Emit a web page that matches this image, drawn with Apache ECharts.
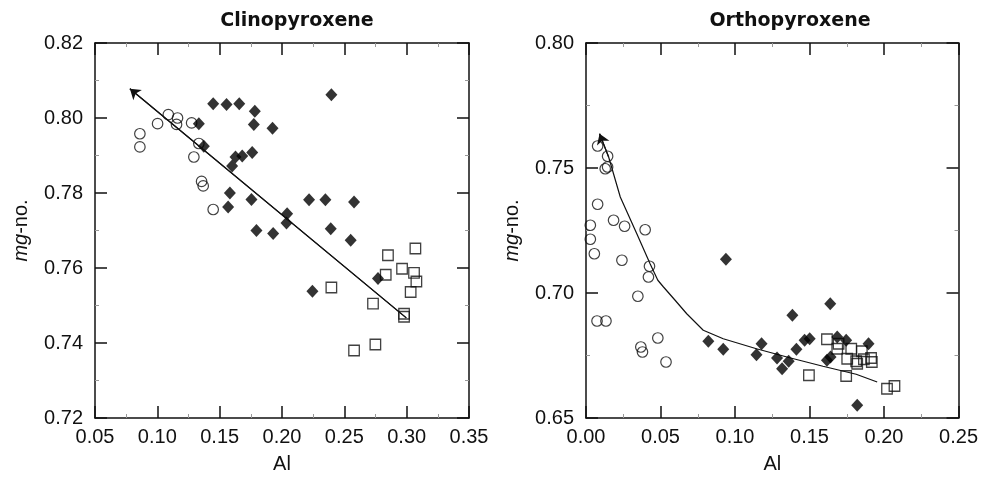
<!DOCTYPE html>
<html>
<head>
<meta charset="utf-8">
<script src="https://cdn.jsdelivr.net/npm/echarts@6/dist/echarts.min.js"></script>
<style>
html,body{margin:0;padding:0;background:#fff;}
#chart{width:981px;height:483px;}
</style>
</head>
<body>
<div id="chart"></div>
<script>
// ---------- Titles ----------
var cpxTitle = 'Clinopyroxene';
var opxTitle = 'Orthopyroxene';

// ---------- Tick values ----------
var cpxXTicks = [0.05, 0.10, 0.15, 0.20, 0.25, 0.30, 0.35];
var cpxYTicks = [0.72, 0.74, 0.76, 0.78, 0.80, 0.82];
var opxXTicks = [0.00, 0.05, 0.10, 0.15, 0.20, 0.25];
var opxYTicks = [0.65, 0.70, 0.75, 0.80];

// ---------- Clinopyroxene data [Al, mg-no.] ----------
var cpxCircles = [
  [0.086, 0.7958], [0.086, 0.7923], [0.1002, 0.7985], [0.1088, 0.8009],
  [0.1162, 0.8000], [0.1154, 0.7983], [0.1275, 0.7987], [0.1293, 0.7896],
  [0.1333, 0.7932], [0.1355, 0.7831], [0.1368, 0.7819], [0.1448, 0.7756]
];
var cpxDiamonds = [
  [0.1333, 0.7985], [0.1373, 0.7925], [0.1448, 0.8038], [0.1555, 0.8036],
  [0.1657, 0.8038], [0.1782, 0.8018], [0.1774, 0.7983], [0.1924, 0.7973],
  [0.2396, 0.8062], [0.1600, 0.7872], [0.1627, 0.7896], [0.1681, 0.7899],
  [0.1761, 0.7908], [0.1582, 0.7800], [0.1568, 0.7763], [0.1755, 0.7783],
  [0.1795, 0.7700], [0.1929, 0.7692], [0.2041, 0.7745], [0.2036, 0.7720],
  [0.2217, 0.7782], [0.2348, 0.7782], [0.2578, 0.7776], [0.2391, 0.7705],
  [0.2551, 0.7674], [0.2244, 0.7538], [0.2770, 0.7572]
];
var cpxSquares = [
  [0.2396, 0.7548], [0.2578, 0.7380], [0.2749, 0.7396], [0.2730, 0.7505],
  [0.2850, 0.7634], [0.2832, 0.7582], [0.2963, 0.7598], [0.3070, 0.7652],
  [0.3059, 0.7587], [0.3078, 0.7564], [0.3032, 0.7536], [0.2979, 0.7478],
  [0.2979, 0.7470]
];
// first point = arrow head end
var cpxTrend = [[0.0780, 0.8078], [0.2997, 0.7467]];

// ---------- Orthopyroxene data [Al, mg-no.] ----------
var opxCircles = [
  [0.0078, 0.7588], [0.0145, 0.7547], [0.0129, 0.7497], [0.0145, 0.7504],
  [0.0078, 0.7355], [0.0029, 0.7271], [0.0029, 0.7215], [0.0056, 0.7157],
  [0.0185, 0.7291], [0.0259, 0.7267], [0.0397, 0.7253], [0.0241, 0.7131],
  [0.0426, 0.7107], [0.0419, 0.7064], [0.0348, 0.6987], [0.0074, 0.6888],
  [0.0134, 0.6888], [0.0368, 0.6784], [0.0379, 0.6764], [0.0482, 0.6820],
  [0.0537, 0.6724]
];
var opxDiamonds = [
  [0.0939, 0.7135], [0.0821, 0.6807], [0.0921, 0.6775], [0.1178, 0.6797],
  [0.1144, 0.6753], [0.1282, 0.6740], [0.1316, 0.6697], [0.1360, 0.6727],
  [0.1385, 0.6911], [0.1412, 0.6775], [0.1467, 0.6811], [0.1501, 0.6817],
  [0.1639, 0.6957], [0.1617, 0.6731], [0.1641, 0.6744], [0.1686, 0.6824],
  [0.1746, 0.6811], [0.1896, 0.6797], [0.1820, 0.6551]
];
var opxSquares = [
  [0.1617, 0.6815], [0.1695, 0.6797], [0.1686, 0.6777], [0.1780, 0.6777],
  [0.1851, 0.6767], [0.1753, 0.6737], [0.1813, 0.6727], [0.1820, 0.6717],
  [0.1865, 0.6735], [0.1913, 0.6740], [0.1918, 0.6724], [0.1496, 0.6671],
  [0.1746, 0.6668], [0.2020, 0.6617], [0.2070, 0.6628]
];
// first point = arrow head end
var opxTrend = [
  [0.0091, 0.7637], [0.0152, 0.7544], [0.0230, 0.7384], [0.0341, 0.7237],
  [0.0430, 0.7117], [0.0482, 0.7051], [0.0520, 0.7024], [0.0598, 0.6971],
  [0.0676, 0.6917], [0.0787, 0.6851], [0.0921, 0.6817], [0.1144, 0.6777],
  [0.1367, 0.6741], [0.1590, 0.6707], [0.1813, 0.6675], [0.1954, 0.6644]
];

// ---------- Styling / building ----------
var FONT = 'Liberation Sans';
var INK = '#111';

function step(t){ return Number((t[1]-t[0]).toFixed(4)); }

function makeX(grid, ticks, pos, withLabels){
  return {
    type: 'value', gridIndex: grid, position: pos,
    min: ticks[0], max: ticks[ticks.length-1], interval: step(ticks),
    name: withLabels ? 'Al' : '', nameLocation: 'middle', nameGap: 36,
    nameTextStyle: {fontFamily: FONT, fontSize: 20, color: INK},
    axisLine: {show: true, onZero: false, lineStyle: {color: INK, width: 1.5}},
    axisTick: {show: true, inside: true, length: 12, lineStyle: {color: INK, width: 1.5}},
    minorTick: {show: true, splitNumber: 2, length: 4, lineStyle: {color: '#999', width: 1}},
    axisLabel: {show: withLabels, margin: 9, fontFamily: FONT, fontSize: 20, color: INK,
      formatter: function(v){ return v.toFixed(2); }},
    splitLine: {show: false}
  };
}
function makeY(grid, ticks, pos, withLabels){
  return {
    type: 'value', gridIndex: grid, position: pos,
    min: ticks[0], max: ticks[ticks.length-1], interval: step(ticks),
    name: withLabels ? '{i|mg}-no.' : '', nameLocation: 'middle', nameGap: 64,
    nameTextStyle: {fontFamily: FONT, fontSize: 20, color: INK,
      rich: {i: {fontFamily: FONT, fontSize: 20, fontStyle: 'italic', color: INK}}},
    axisLine: {show: true, onZero: false, lineStyle: {color: INK, width: 1.5}},
    axisTick: {show: true, inside: true, length: 12, lineStyle: {color: INK, width: 1.5}},
    minorTick: {show: true, splitNumber: 2, length: 4, lineStyle: {color: '#999', width: 1}},
    axisLabel: {show: withLabels, margin: 12, fontFamily: FONT, fontSize: 20, color: INK,
      formatter: function(v){ return v.toFixed(2); }},
    splitLine: {show: false}
  };
}

function circles(data, xi, yi){
  return {type: 'scatter', xAxisIndex: xi, yAxisIndex: yi, data: data, symbol: 'circle', symbolSize: 10.5,
    itemStyle: {color: 'rgba(255,255,255,0)', borderColor: INK, borderWidth: 1.2}, z: 3, silent: true};
}
function diamonds(data, xi, yi){
  return {type: 'scatter', xAxisIndex: xi, yAxisIndex: yi, data: data, symbol: 'diamond', symbolSize: [12, 13],
    itemStyle: {color: '#000'}, z: 4, silent: true};
}
function squares(data, xi, yi){
  return {type: 'scatter', xAxisIndex: xi, yAxisIndex: yi, data: data, symbol: 'rect', symbolSize: 10.5,
    itemStyle: {color: 'rgba(255,255,255,0)', borderColor: INK, borderWidth: 1.3}, z: 3, silent: true};
}
function trend(data, xi, yi){
  return {type: 'line', xAxisIndex: xi, yAxisIndex: yi, data: data, symbol: 'none', silent: true, z: 2,
    lineStyle: {color: INK, width: 1.2},
    markLine: {silent: true, symbol: ['none', 'arrow'], symbolSize: 10, label: {show: false},
      lineStyle: {color: INK, width: 1.2, type: 'solid'},
      data: [[{coord: data[1]}, {coord: data[0]}]]}
  };
}

var option = {
  animation: false,
  backgroundColor: '#fff',
  title: [
    {text: cpxTitle, left: 292, top: 7, textAlign: 'center',
      textStyle: {fontFamily: 'DejaVu Sans', fontWeight: 'bold', fontSize: 19, color: INK}},
    {text: opxTitle, left: 785, top: 7, textAlign: 'center',
      textStyle: {fontFamily: 'DejaVu Sans', fontWeight: 'bold', fontSize: 19, color: INK}}
  ],
  grid: [
    {left: 95, top: 43, width: 374, height: 375},
    {left: 586, top: 43, width: 373, height: 375}
  ],
  xAxis: [
    makeX(0, cpxXTicks, 'bottom', true),
    makeX(0, cpxXTicks, 'top', false),
    makeX(1, opxXTicks, 'bottom', true),
    makeX(1, opxXTicks, 'top', false)
  ],
  yAxis: [
    makeY(0, cpxYTicks, 'left', true),
    makeY(0, cpxYTicks, 'right', false),
    makeY(1, opxYTicks, 'left', true),
    makeY(1, opxYTicks, 'right', false)
  ],
  series: [
    trend(cpxTrend, 0, 0),
    circles(cpxCircles, 0, 0),
    diamonds(cpxDiamonds, 0, 0),
    squares(cpxSquares, 0, 0),
    trend(opxTrend, 2, 2),
    circles(opxCircles, 2, 2),
    diamonds(opxDiamonds, 2, 2),
    squares(opxSquares, 2, 2)
  ]
};

var chart = echarts.init(document.getElementById('chart'), null, {renderer: 'canvas'});
chart.setOption(option);
</script>
</body>
</html>
